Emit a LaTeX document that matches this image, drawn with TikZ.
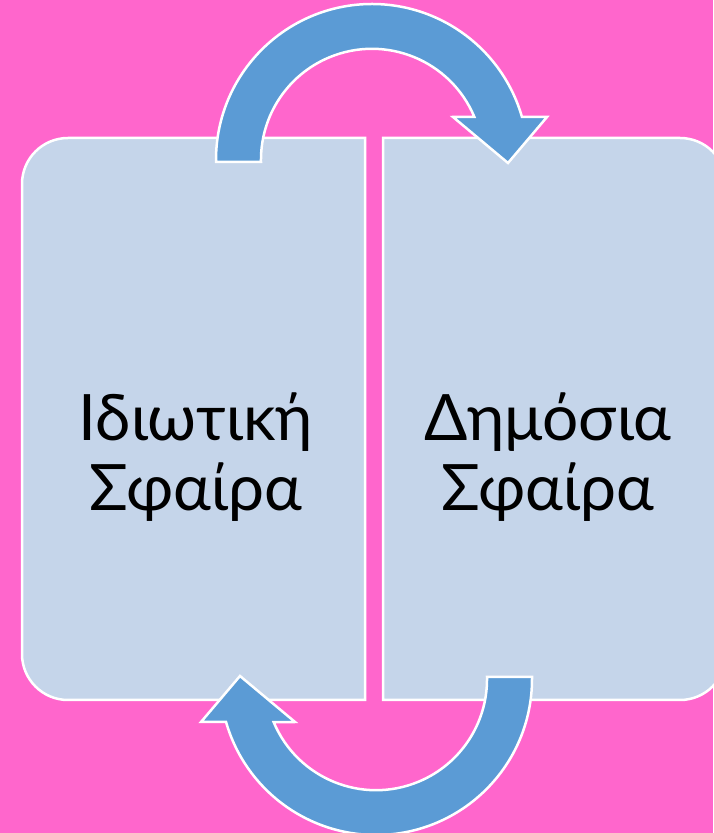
\documentclass[tikz,border=0pt]{standalone}
\usepackage{fontspec}
\setmainfont{Lato}
\definecolor{bgpink}{HTML}{FF66CC}
\definecolor{boxblue}{HTML}{C5D5EA}
\definecolor{arrblue}{HTML}{5B9BD5}

\begin{document}
\begin{tikzpicture}[x=1pt,y=1pt,
  sphere/.style={fill=boxblue,draw=white,line width=2.5pt},
  cycarrow/.style={fill=arrblue,draw=white,line width=2.5pt,line join=miter},
  lbl/.style={align=center,inner sep=0pt,text=black,font=\fontsize{64}{70}\selectfont}]

  \fill[bgpink] (0,0) rectangle (713,833);
  \useasboundingbox (0,0) rectangle (713,833);

  % private and public sphere
  \draw[sphere] (365,695) -- (68,695) arc[start angle=90,end angle=180,radius=46pt]
    -- (22,179) arc[start angle=180,end angle=270,radius=46pt] -- (365,133) -- cycle;
  \draw[sphere] (383,695) -- (680,695) arc[start angle=90,end angle=0,radius=46pt]
    -- (726,179) arc[start angle=0,end angle=-90,radius=46pt] -- (383,133) -- cycle;

  \node[lbl] (priv) at (196,376) {Ιδιωτική\\Σφαίρα};
  \node[lbl] (pub) at (548,376) {Δημόσια\\Σφαίρα};

  % circular arrows
  \coordinate (ctr) at (374,413.5);
  \foreach \r in {0,180}{
    \begin{scope}[rotate around={\r:(ctr)}]
      \draw[cycarrow] (216,671) -- (216,673) arc[start angle=180,end angle=16,radius=156pt]
        -- (547,716) -- (508,670) -- (453,716) -- (474.3,716.2)
        arc[start angle=22.8,end angle=180,radius=111pt] -- (261,671) -- cycle;
    \end{scope}
  }
\end{tikzpicture}
\end{document}
